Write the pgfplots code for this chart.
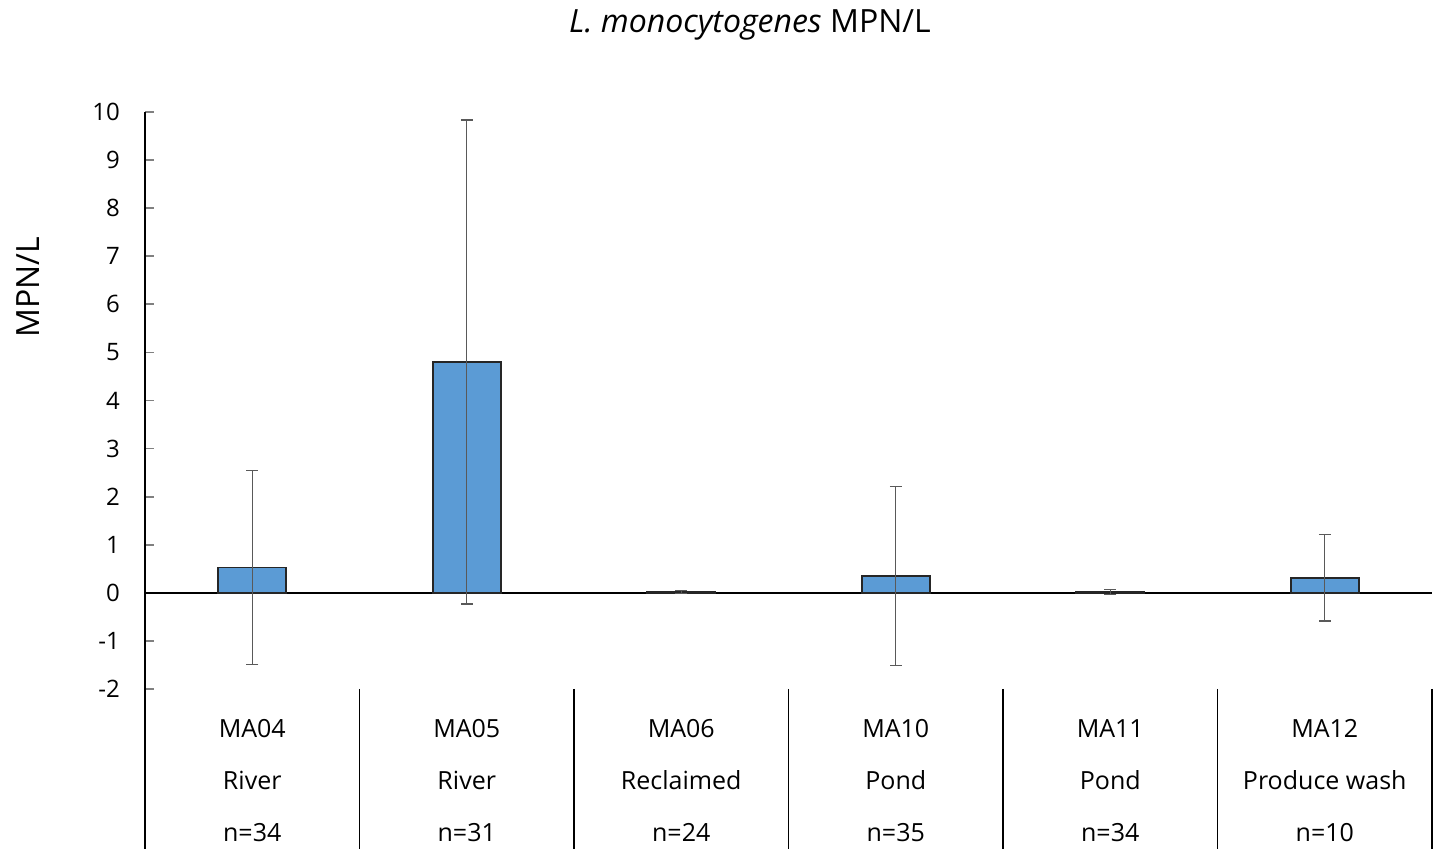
\documentclass[border=0pt]{standalone}
\usepackage{fontspec}
\setmainfont{Open Sans}
\usepackage{pgfplots}
\usepackage{pgfplotstable}
\pgfplotsset{compat=1.18}
\definecolor{barblue}{HTML}{5B9BD5}
\definecolor{errgrey}{HTML}{595959}
\pgfplotstableread{
x y err
0 0.53 2.02
1 4.80 5.03
2 0.02 0.03
3 0.35 1.86
4 0.02 0.05
5 0.31 0.90
}\datatable
\begin{document}
\begin{tikzpicture}
\begin{axis}[
  at={(0,0)}, anchor=south west,
  scale only axis,
  width=643.5pt, height=288.5pt,
  xmin=-0.5, xmax=5.5, ymin=-2, ymax=10,
  axis y line=left, axis x line=bottom,
  x axis line style={draw=none},
  y axis line style={-, line width=0.9pt},
  ytick={-2,-1,...,10},
  ytick style={line width=0.9pt},
  tick align=inside,
  major tick length=4.5pt,
  yticklabel style={font=\fontsize{12}{14}\selectfont, xshift=-9pt},
  /pgf/number format/assume math mode=true,
  xtick={0,1,2,3,4,5},
  xtick style={draw=none},
  xticklabels={{\strut MA04\\River\\n=34},{\strut MA05\\River\\n=31},{\strut MA06\\Reclaimed\\n=24},{\strut MA10\\Pond\\n=35},{\strut MA11\\Pond\\n=34},{\strut MA12\\Produce wash\\n=10}},
  xticklabel style={align=center, font=\fontsize{12.5}{26}\selectfont, anchor=north, yshift=-2.5pt},
  clip=false,
]
\draw[line width=0.9pt] (axis cs:-0.5,0) -- (axis cs:5.5,0);
\addplot[ybar, bar width=34pt, fill=barblue, draw=black!85, line width=0.8pt,
  error bars/.cd, y dir=both, y explicit,
  error bar style={errgrey, line width=0.7pt},
  error mark options={rotate=90, mark size=3pt, errgrey, line width=0.7pt}]
  table[x=x, y=y, y error=err] {\datatable};
\end{axis}
\foreach \k in {0,...,6} {
  \draw[line width=0.9pt] (\k*107.25pt,0pt) -- (\k*107.25pt,-80pt);
}
\node[font=\fontsize{16}{19}\selectfont] at (302.5pt,332pt) {\textit{L. monocytogenes} MPN/L};
\node[font=\fontsize{16}{19}\selectfont, rotate=90] at (-58.5pt,201pt) {MPN/L};
\pgfresetboundingbox
\path (-72.5pt,-80pt) rectangle (646.5pt,344.5pt);
\end{tikzpicture}
\end{document}
